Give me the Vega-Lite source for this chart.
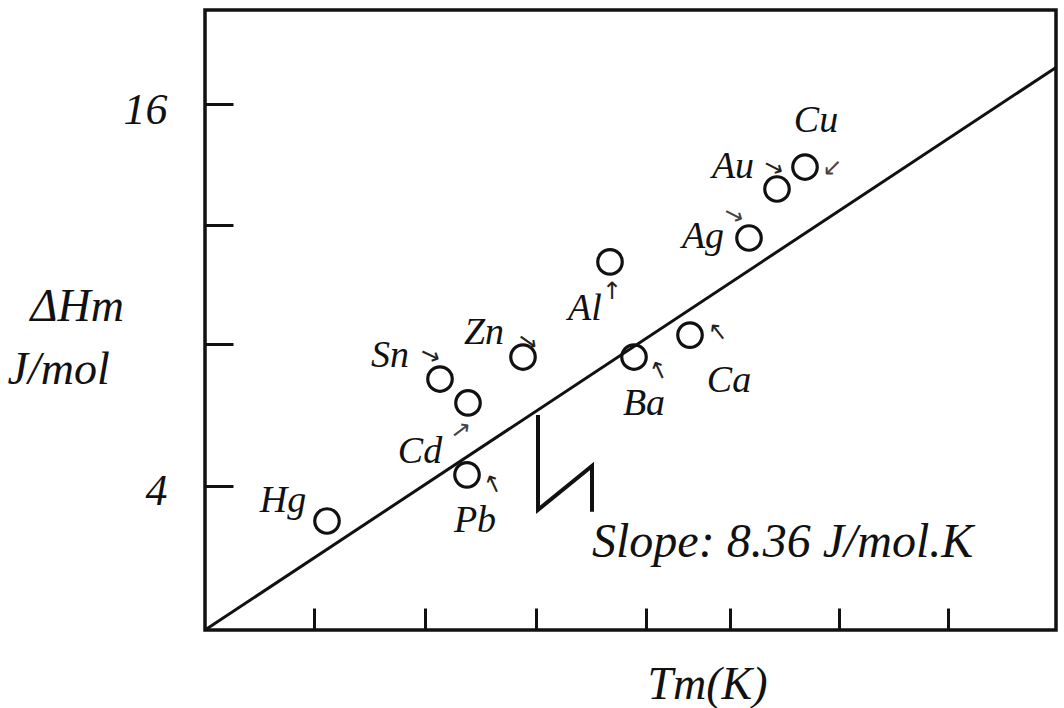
{
  "$schema": "https://vega.github.io/schema/vega-lite/v6.json",
  "autosize": {"type": "none"},
  "padding": {"left": 205, "top": 10, "right": 8, "bottom": 78},
  "width": 851,
  "height": 620,
  "background": "white",
  "config": {
    "view": {"stroke": "#111", "strokeWidth": 3.5},
    "axis": {"grid": false, "domain": false},
    "text": {"font": "Liberation Serif", "fontStyle": "italic", "fontSize": 38, "color": "#111"}
  },
  "datasets": {
    "metals": [
      {"element": "Hg", "Tm": 122, "dH": 2.90},
      {"element": "Pb", "Tm": 262, "dH": 4.35},
      {"element": "Cd", "Tm": 263, "dH": 6.61},
      {"element": "Sn", "Tm": 235, "dH": 7.36},
      {"element": "Zn", "Tm": 318, "dH": 8.05},
      {"element": "Al", "Tm": 405, "dH": 11.04},
      {"element": "Ba", "Tm": 429, "dH": 8.05},
      {"element": "Ca", "Tm": 485, "dH": 8.74},
      {"element": "Ag", "Tm": 544, "dH": 11.79},
      {"element": "Au", "Tm": 572, "dH": 13.33},
      {"element": "Cu", "Tm": 600, "dH": 14.02}
    ],
    "fit": [
      {"Tm": 0, "dH": -0.524},
      {"Tm": 851, "dH": 17.15}
    ],
    "brk": [
      {"i": 1, "Tm": 333, "dH": 6.23},
      {"i": 2, "Tm": 333, "dH": 3.25},
      {"i": 3, "Tm": 387, "dH": 4.63},
      {"i": 4, "Tm": 387, "dH": 3.19}
    ]
  },
  "layer": [
    {
      "encoding": {
        "x": {
          "field": "Tm", "type": "quantitative",
          "scale": {"domain": [0, 851], "nice": false, "zero": false},
          "axis": {
            "values": [109, 220, 331, 441, 525, 634, 743],
            "labels": false,
            "tickSize": -22, "tickWidth": 3, "tickColor": "#111",
            "title": "Tm(K)",
            "titleFont": "Liberation Serif", "titleFontStyle": "italic", "titleFontWeight": "normal",
            "titleFontSize": 46, "titleColor": "#111",
            "titleAlign": "center", "titleBaseline": "alphabetic",
            "titleX": 502, "titleY": 68
          }
        },
        "y": {
          "field": "dH", "type": "quantitative",
          "scale": {"domain": [-0.524, 18.953], "nice": false, "zero": false},
          "axis": {
            "values": [4, 8.46, 12.2, 16],
            "labelExpr": "datum.value == 16 || datum.value == 4 ? datum.label : ''",
            "labelFont": "Liberation Serif", "labelFontStyle": "italic", "labelFontSize": 44,
            "labelColor": "#111", "labelPadding": 66, "labelOffset": 6,
            "tickSize": -28, "tickWidth": 3, "tickColor": "#111",
            "title": ["\u200b\u00a0\u00a0ΔHm", "J/mol"],
            "titleFont": "Liberation Serif", "titleFontStyle": "italic", "titleFontWeight": "normal",
            "titleFontSize": 46, "titleColor": "#111",
            "titleAngle": 0, "titleAlign": "left", "titleBaseline": "alphabetic",
            "titleX": -198, "titleY": 310, "titleLineHeight": 63
          }
        }
      },
      "layer": [
        {"data": {"name": "fit"}, "mark": {"type": "line", "color": "#111", "strokeWidth": 3}, "encoding": {}},
        {"data": {"name": "brk"}, "mark": {"type": "line", "color": "#111", "strokeWidth": 4, "strokeJoin": "miter"}, "encoding": {"order": {"field": "i", "type": "quantitative"}}},
        {"data": {"name": "metals"}, "mark": {"type": "point", "shape": "circle", "filled": false, "size": 600, "stroke": "#111", "strokeWidth": 3.2, "opacity": 1}},

        {"data": {"name": "metals"}, "transform": [{"filter": "datum.element === 'Hg'"}], "mark": {"type": "text", "align": "center", "baseline": "alphabetic", "dx": -44, "dy": -9}, "encoding": {"text": {"field": "element"}}},
        {"data": {"name": "metals"}, "transform": [{"filter": "datum.element === 'Pb'"}], "mark": {"type": "text", "align": "center", "baseline": "alphabetic", "dx": 8, "dy": 57}, "encoding": {"text": {"field": "element"}}},
        {"data": {"name": "metals"}, "transform": [{"filter": "datum.element === 'Cd'"}], "mark": {"type": "text", "align": "center", "baseline": "alphabetic", "dx": -48, "dy": 60}, "encoding": {"text": {"field": "element"}}},
        {"data": {"name": "metals"}, "transform": [{"filter": "datum.element === 'Sn'"}], "mark": {"type": "text", "align": "center", "baseline": "alphabetic", "dx": -50, "dy": -12}, "encoding": {"text": {"field": "element"}}},
        {"data": {"name": "metals"}, "transform": [{"filter": "datum.element === 'Zn'"}], "mark": {"type": "text", "align": "center", "baseline": "alphabetic", "dx": -39, "dy": -13}, "encoding": {"text": {"field": "element"}}},
        {"data": {"name": "metals"}, "transform": [{"filter": "datum.element === 'Al'"}], "mark": {"type": "text", "align": "center", "baseline": "alphabetic", "dx": -25, "dy": 58}, "encoding": {"text": {"field": "element"}}},
        {"data": {"name": "metals"}, "transform": [{"filter": "datum.element === 'Ba'"}], "mark": {"type": "text", "align": "center", "baseline": "alphabetic", "dx": 10, "dy": 58}, "encoding": {"text": {"field": "element"}}},
        {"data": {"name": "metals"}, "transform": [{"filter": "datum.element === 'Ca'"}], "mark": {"type": "text", "align": "center", "baseline": "alphabetic", "dx": 39, "dy": 57}, "encoding": {"text": {"field": "element"}}},
        {"data": {"name": "metals"}, "transform": [{"filter": "datum.element === 'Ag'"}], "mark": {"type": "text", "align": "center", "baseline": "alphabetic", "dx": -46, "dy": 10}, "encoding": {"text": {"field": "element"}}},
        {"data": {"name": "metals"}, "transform": [{"filter": "datum.element === 'Au'"}], "mark": {"type": "text", "align": "center", "baseline": "alphabetic", "dx": -44, "dy": -11}, "encoding": {"text": {"field": "element"}}},
        {"data": {"name": "metals"}, "transform": [{"filter": "datum.element === 'Cu'"}], "mark": {"type": "text", "align": "center", "baseline": "alphabetic", "dx": 11, "dy": -35}, "encoding": {"text": {"field": "element"}}},

        {"data": {"name": "metals"}, "transform": [{"filter": "datum.element === 'Pb'"}], "mark": {"type": "text", "font": "DejaVu Sans", "fontStyle": "normal", "fontSize": 24, "color": "#222", "align": "center", "baseline": "middle", "dx": 20, "dy": 21, "angle": -25}, "encoding": {"text": {"value": "↑"}}},
        {"data": {"name": "metals"}, "transform": [{"filter": "datum.element === 'Cd'"}], "mark": {"type": "text", "font": "DejaVu Sans", "fontStyle": "normal", "fontSize": 24, "color": "#444", "align": "center", "baseline": "middle", "dx": -22, "dy": 18, "angle": -37}, "encoding": {"text": {"value": "→"}}},
        {"data": {"name": "metals"}, "transform": [{"filter": "datum.element === 'Sn'"}], "mark": {"type": "text", "font": "DejaVu Sans", "fontStyle": "normal", "fontSize": 24, "color": "#222", "align": "center", "baseline": "middle", "dx": -19, "dy": -17, "angle": 25}, "encoding": {"text": {"value": "→"}}},
        {"data": {"name": "metals"}, "transform": [{"filter": "datum.element === 'Zn'"}], "mark": {"type": "text", "font": "DejaVu Sans", "fontStyle": "normal", "fontSize": 24, "color": "#222", "align": "center", "baseline": "middle", "dx": -5, "dy": -15, "angle": 35}, "encoding": {"text": {"value": "→"}}},
        {"data": {"name": "metals"}, "transform": [{"filter": "datum.element === 'Al'"}], "mark": {"type": "text", "font": "DejaVu Sans", "fontStyle": "normal", "fontSize": 24, "color": "#222", "align": "center", "baseline": "middle", "dx": 2, "dy": 30, "angle": 0}, "encoding": {"text": {"value": "↑"}}},
        {"data": {"name": "metals"}, "transform": [{"filter": "datum.element === 'Ba'"}], "mark": {"type": "text", "font": "DejaVu Sans", "fontStyle": "normal", "fontSize": 24, "color": "#222", "align": "center", "baseline": "middle", "dx": 17, "dy": 24, "angle": -25}, "encoding": {"text": {"value": "↑"}}},
        {"data": {"name": "metals"}, "transform": [{"filter": "datum.element === 'Ca'"}], "mark": {"type": "text", "font": "DejaVu Sans", "fontStyle": "normal", "fontSize": 24, "color": "#222", "align": "center", "baseline": "middle", "dx": 24, "dy": 16, "angle": -38}, "encoding": {"text": {"value": "↑"}}},
        {"data": {"name": "metals"}, "transform": [{"filter": "datum.element === 'Ag'"}], "mark": {"type": "text", "font": "DejaVu Sans", "fontStyle": "normal", "fontSize": 24, "color": "#444", "align": "center", "baseline": "middle", "dx": -24, "dy": -13, "angle": 27}, "encoding": {"text": {"value": "→"}}},
        {"data": {"name": "metals"}, "transform": [{"filter": "datum.element === 'Au'"}], "mark": {"type": "text", "font": "DejaVu Sans", "fontStyle": "normal", "fontSize": 24, "color": "#222", "align": "center", "baseline": "middle", "dx": -13, "dy": -17, "angle": 28}, "encoding": {"text": {"value": "→"}}},
        {"data": {"name": "metals"}, "transform": [{"filter": "datum.element === 'Cu'"}], "mark": {"type": "text", "font": "DejaVu Sans", "fontStyle": "normal", "fontSize": 24, "color": "#444", "align": "center", "baseline": "middle", "dx": 20, "dy": -17, "angle": 45}, "encoding": {"text": {"value": "↓"}}}
      ]
    },
    {"data": {"values": [{"note": "Slope: 8.36 J/mol.K"}]}, "mark": {"type": "text", "align": "left", "baseline": "alphabetic", "fontSize": 48}, "encoding": {"x": {"datum": 387, "type": "quantitative"}, "y": {"datum": 1.77, "type": "quantitative"}, "text": {"field": "note", "type": "nominal"}}}
  ]
}
